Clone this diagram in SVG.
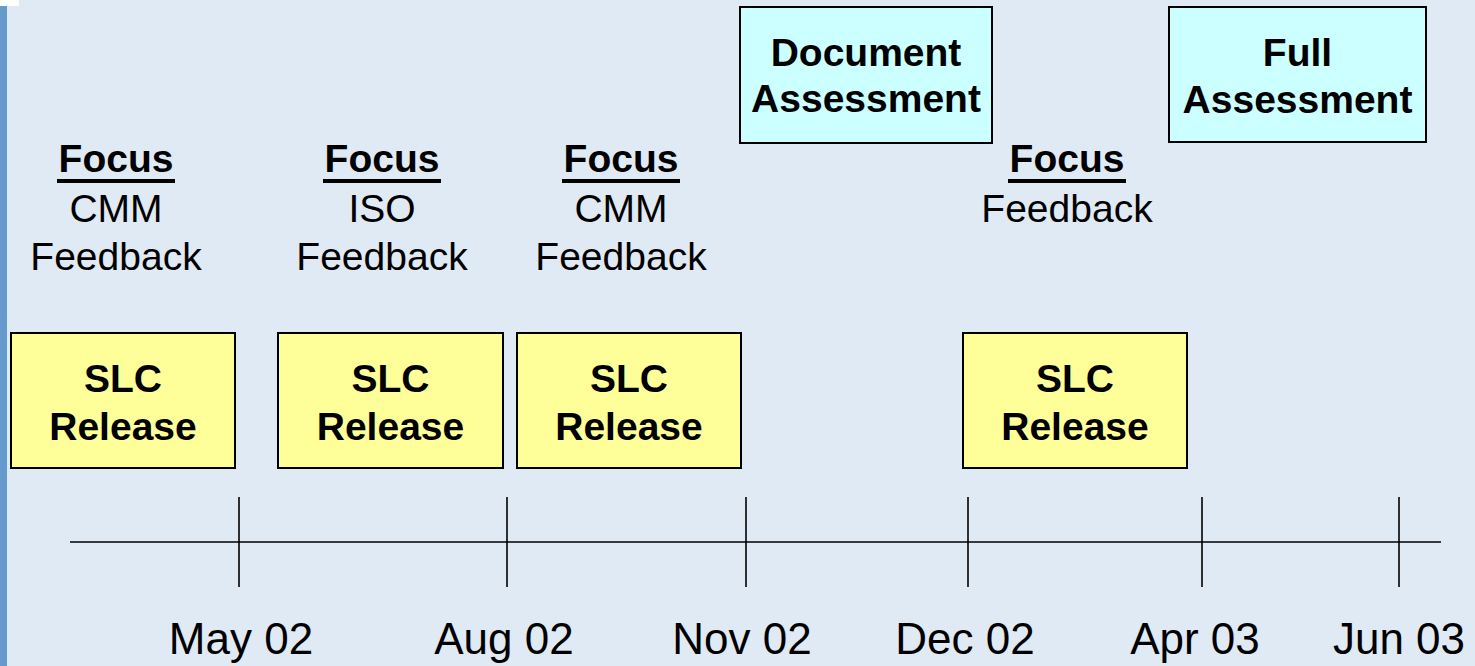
<svg xmlns="http://www.w3.org/2000/svg" width="1475" height="666" viewBox="0 0 1475 666">
  <style>
    .bold { font-family: "Liberation Sans", Arial, sans-serif; font-weight: bold; font-size: 39px; fill: #000; text-anchor: middle; }
    .plain { font-family: "Liberation Sans", Arial, sans-serif; font-size: 39px; fill: #000; text-anchor: middle; }
    .date { font-family: "Liberation Sans", Arial, sans-serif; font-size: 44px; fill: #000; text-anchor: middle; }
    .release { fill: #FFFF99; stroke: #000; stroke-width: 2; }
    .assess { fill: #CCFFFF; stroke: #000; stroke-width: 2; }
    .axis { stroke: #000; stroke-width: 1.6; fill: none; }
    .uline { stroke: #000; stroke-width: 4; }
  </style>

  <!-- page background and side bar -->
  <rect x="0" y="0" width="1475" height="666" fill="#E0EAF4"/>
  <rect x="0" y="6" width="7" height="660" fill="#6699CC"/>
  <rect x="0" y="0" width="19" height="6" fill="#FFFFFF"/>

  <!-- timeline axis with month ticks -->
  <g id="connectors">
    <line class="axis" x1="70" y1="542" x2="1441" y2="542"/>
    <line class="axis" x1="239" y1="497" x2="239" y2="587"/>
    <line class="axis" x1="507" y1="497" x2="507" y2="587"/>
    <line class="axis" x1="746" y1="497" x2="746" y2="587"/>
    <line class="axis" x1="968" y1="497" x2="968" y2="587"/>
    <line class="axis" x1="1202" y1="497" x2="1202" y2="587"/>
    <line class="axis" x1="1399" y1="497" x2="1399" y2="587"/>
  </g>

  <!-- month labels -->
  <g id="dates">
    <text class="date" x="241" y="654">May 02</text>
    <text class="date" x="504" y="654">Aug 02</text>
    <text class="date" x="742" y="654">Nov 02</text>
    <text class="date" x="965" y="654">Dec 02</text>
    <text class="date" x="1195" y="654">Apr 03</text>
    <text class="date" x="1399" y="654">Jun 03</text>
  </g>

  <!-- release boxes -->
  <g id="release1">
    <rect class="release" x="11" y="333" width="224" height="135"/>
    <text class="bold" x="123" y="392">SLC</text>
    <text class="bold" x="123" y="440">Release</text>
  </g>
  <g id="release2">
    <rect class="release" x="278" y="333" width="225" height="135"/>
    <text class="bold" x="390.5" y="392">SLC</text>
    <text class="bold" x="390.5" y="440">Release</text>
  </g>
  <g id="release3">
    <rect class="release" x="517" y="333" width="224" height="135"/>
    <text class="bold" x="629" y="392">SLC</text>
    <text class="bold" x="629" y="440">Release</text>
  </g>
  <g id="release4">
    <rect class="release" x="963" y="333" width="224" height="135"/>
    <text class="bold" x="1075" y="392">SLC</text>
    <text class="bold" x="1075" y="440">Release</text>
  </g>

  <!-- assessment boxes -->
  <g id="doc-assessment">
    <rect class="assess" x="740" y="7" width="252" height="136"/>
    <text class="bold" x="866" y="66">Document</text>
    <text class="bold" x="866" y="112">Assessment</text>
  </g>
  <g id="full-assessment">
    <rect class="assess" x="1169" y="7" width="257" height="135"/>
    <text class="bold" x="1297.5" y="66">Full</text>
    <text class="bold" x="1297.5" y="113">Assessment</text>
  </g>

  <!-- focus notes -->
  <g id="focus1">
    <text class="bold" x="116" y="172">Focus</text>
    <line class="uline" x1="57" y1="181" x2="175" y2="181"/>
    <text class="plain" x="116" y="222">CMM</text>
    <text class="plain" x="116" y="270">Feedback</text>
  </g>
  <g id="focus2">
    <text class="bold" x="382" y="172">Focus</text>
    <line class="uline" x1="323" y1="181" x2="441" y2="181"/>
    <text class="plain" x="382" y="222">ISO</text>
    <text class="plain" x="382" y="270">Feedback</text>
  </g>
  <g id="focus3">
    <text class="bold" x="621" y="172">Focus</text>
    <line class="uline" x1="562" y1="181" x2="680" y2="181"/>
    <text class="plain" x="621" y="222">CMM</text>
    <text class="plain" x="621" y="270">Feedback</text>
  </g>
  <g id="focus4">
    <text class="bold" x="1067" y="172">Focus</text>
    <line class="uline" x1="1008" y1="181" x2="1126" y2="181"/>
    <text class="plain" x="1067" y="222">Feedback</text>
  </g>
</svg>
